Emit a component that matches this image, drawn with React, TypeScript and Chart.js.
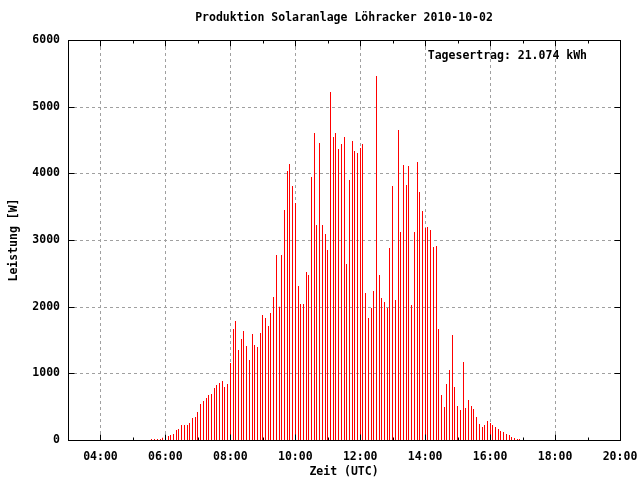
import React, { useEffect, useRef } from "react";
import { Chart, registerables } from "chart.js";

Chart.register(...registerables);

const title = "Produktion Solaranlage Löhracker 2010-10-02";
const xTitle = "Zeit (UTC)";
const yTitle = "Leistung [W]";
const yieldLabel = "Tagesertrag: 21.074 kWh";

const times = [
  "05:35", "05:40", "05:45", "05:50", "05:55",
  "06:00", "06:05", "06:10", "06:15", "06:20", "06:25", "06:30", "06:35", "06:40", "06:45", "06:50", "06:55",
  "07:00", "07:05", "07:10", "07:15", "07:20", "07:25", "07:30", "07:35", "07:40", "07:45", "07:50", "07:55",
  "08:00", "08:05", "08:10", "08:15", "08:20", "08:25", "08:30", "08:35", "08:40", "08:45", "08:50", "08:55",
  "09:00", "09:05", "09:10", "09:15", "09:20", "09:25", "09:30", "09:35", "09:40", "09:45", "09:50", "09:55",
  "10:00", "10:05", "10:10", "10:15", "10:20", "10:25", "10:30", "10:35", "10:40", "10:45", "10:50", "10:55",
  "11:00", "11:05", "11:10", "11:15", "11:20", "11:25", "11:30", "11:35", "11:40", "11:45", "11:50", "11:55",
  "12:00", "12:05", "12:10", "12:15", "12:20", "12:25", "12:30", "12:35", "12:40", "12:45", "12:50", "12:55",
  "13:00", "13:05", "13:10", "13:15", "13:20", "13:25", "13:30", "13:35", "13:40", "13:45", "13:50", "13:55",
  "14:00", "14:05", "14:10", "14:15", "14:20", "14:25", "14:30", "14:35", "14:40", "14:45", "14:50", "14:55",
  "15:00", "15:05", "15:10", "15:15", "15:20", "15:25", "15:30", "15:35", "15:40", "15:45", "15:50", "15:55",
  "16:00", "16:05", "16:10", "16:15", "16:20", "16:25", "16:30", "16:35", "16:40", "16:45", "16:50", "16:55",
];

const power = [
  15, 15, 15, 15, 35,
  60, 60, 75, 90, 150, 165, 225, 225, 225, 255, 330, 345,
  420, 540, 585, 630, 675, 690, 780, 825, 855, 885, 795, 840,
  1155, 1665, 1785, 1350, 1515, 1635, 1410, 1200, 1590, 1425, 1395, 1605,
  1875, 1830, 1710, 1905, 2145, 2775, 2000, 2775, 3450, 4035, 4140, 3810,
  3555, 2310, 2040, 2040, 2520, 2475, 3945, 4605, 3225, 4455, 3225, 3090,
  2850, 5220, 4545, 4605, 4365, 4440, 4545, 2640, 3900, 4485, 4335, 4305,
  4380, 4440, 2205, 1830, 1980, 2235, 5460, 2475, 2130, 2070, 1980, 2880,
  3810, 2100, 4650, 3120, 4125, 3825, 4110, 2025, 3120, 4170, 3720, 3435,
  3180, 3195, 3150, 2895, 2910, 1665, 675, 495, 840, 1050, 1575, 795,
  510, 450, 1170, 480, 600, 510, 465, 345, 240, 195, 225, 285,
  255, 225, 195, 165, 135, 120, 90, 75, 45, 30, 15, 15,
];

const yTicks = [0, 1000, 2000, 3000, 4000, 5000, 6000];
const xMajorTicks = [4, 6, 8, 10, 12, 14, 16, 18, 20];
const xTickLabels = ["04:00", "06:00", "08:00", "10:00", "12:00", "14:00", "16:00", "18:00", "20:00"];
const xMinorTicks = [5, 7, 9, 11, 13, 15, 17, 19];

const X_MIN = 3;
const X_MAX = 20;
const Y_MIN = 0;
const Y_MAX = 6000;

const FONT = 'bold 11.5px "DejaVu Sans Mono", monospace';

function toHours(t: string): number {
  const [h, m] = t.split(":").map(Number);
  return h + m / 60;
}

const gnuplotFrame = {
  id: "gnuplotFrame",
  beforeDatasetsDraw(chart: any) {
    const { ctx, chartArea, scales } = chart;
    const { left, right, top, bottom } = chartArea;
    const x = scales.x;
    const y = scales.y;
    // snap impulses to whole pixels
    const meta = chart.getDatasetMeta(0);
    meta.data.forEach((el: any) => {
      el.x = Math.floor(el.x) + 0.5;
    });
    ctx.save();
    ctx.strokeStyle = "#a0a0a0";
    ctx.lineWidth = 1;
    ctx.setLineDash([3, 3]);
    xMajorTicks.forEach((v) => {
      const px = Math.round(x.getPixelForValue(v)) + 0.5;
      if (px > left + 1 && px < right - 1) {
        ctx.beginPath();
        ctx.moveTo(px, bottom);
        ctx.lineTo(px, top);
        ctx.stroke();
      }
    });
    yTicks.forEach((v) => {
      const py = Math.round(y.getPixelForValue(v)) + 0.5;
      if (py > top + 1 && py < bottom - 1) {
        ctx.beginPath();
        ctx.moveTo(left, py);
        ctx.lineTo(right, py);
        ctx.stroke();
      }
    });
    ctx.restore();
  },
  afterDatasetsDraw(chart: any) {
    const { ctx, chartArea, scales } = chart;
    const { left, right, top, bottom } = chartArea;
    const x = scales.x;
    const y = scales.y;
    ctx.save();
    ctx.setLineDash([]);
    ctx.strokeStyle = "#000";
    ctx.lineWidth = 1;
    const L = Math.round(left) + 0.5;
    const R = Math.round(right) + 0.5;
    const T = Math.round(top) + 0.5;
    const B = Math.round(bottom) + 0.5;
    ctx.beginPath();
    // ticks
    xMajorTicks.forEach((v) => {
      const px = Math.round(x.getPixelForValue(v)) + 0.5;
      ctx.moveTo(px, B);
      ctx.lineTo(px, B - 6);
      ctx.moveTo(px, T);
      ctx.lineTo(px, T + 6);
    });
    xMinorTicks.forEach((v) => {
      const px = Math.round(x.getPixelForValue(v)) + 0.5;
      ctx.moveTo(px, B);
      ctx.lineTo(px, B - 3);
      ctx.moveTo(px, T);
      ctx.lineTo(px, T + 3);
    });
    yTicks.forEach((v) => {
      const py = Math.round(y.getPixelForValue(v)) + 0.5;
      ctx.moveTo(L, py);
      ctx.lineTo(L + 6, py);
      ctx.moveTo(R, py);
      ctx.lineTo(R - 6, py);
    });
    ctx.stroke();
    ctx.strokeRect(L, T, R - L, B - T);

    // text
    ctx.fillStyle = "#000";
    ctx.font = FONT;
    ctx.textBaseline = "middle";
    ctx.textAlign = "right";
    yTicks.forEach((v) => {
      const py = y.getPixelForValue(v);
      ctx.fillText(String(v), left - 8, py);
    });
    ctx.textAlign = "center";
    xMajorTicks.forEach((v, i) => {
      const px = x.getPixelForValue(v);
      ctx.fillText(xTickLabels[i], px, bottom + 17);
    });
    const cx = (left + right) / 2;
    ctx.fillText(title, cx, 18);
    ctx.fillText(xTitle, cx, 472);
    ctx.textAlign = "right";
    ctx.fillText(yieldLabel, right - 33, top + 16);
    ctx.save();
    ctx.translate(14, (top + bottom) / 2);
    ctx.rotate(-Math.PI / 2);
    ctx.textAlign = "center";
    ctx.fillText(yTitle, 0, 0);
    ctx.restore();
    ctx.restore();
  },
};

export default function App() {
  const canvasRef = useRef<HTMLCanvasElement | null>(null);

  useEffect(() => {
    document.body.style.margin = "0";
    const canvas = canvasRef.current;
    if (!canvas) return;
    const points = times.map((t, i) => ({ x: toHours(t), y: power[i] }));
    const chart = new Chart(canvas, {
      type: "bar",
      data: {
        datasets: [
          {
            label: "Leistung",
            data: points as any,
            backgroundColor: "#ff0000",
            borderWidth: 0,
            barThickness: 1,
            inflateAmount: 0,
          } as any,
        ],
      },
      options: {
        animation: false,
        responsive: false,
        devicePixelRatio: 1,
        layout: { padding: { left: 68, right: 20, top: 40, bottom: 40 } },
        plugins: {
          legend: { display: false },
          tooltip: { enabled: false },
          title: { display: false },
        },
        scales: {
          x: { type: "linear", min: X_MIN, max: X_MAX, display: false, offset: false },
          y: { type: "linear", min: Y_MIN, max: Y_MAX, display: false },
        },
      },
      plugins: [gnuplotFrame],
    });
    return () => chart.destroy();
  }, []);

  return (
    <div style={{ width: 640, height: 480, background: "#fff" }}>
      <canvas ref={canvasRef} width={640} height={480} style={{ display: "block" }} />
    </div>
  );
}
